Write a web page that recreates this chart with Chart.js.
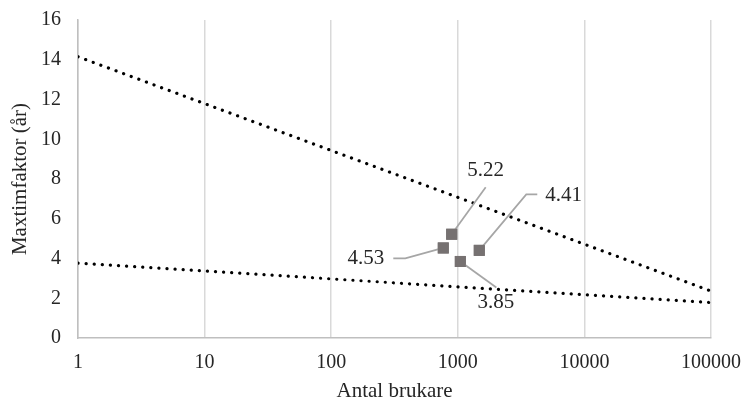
<!DOCTYPE html>
<html>
<head>
<meta charset="utf-8">
<script src="https://cdn.jsdelivr.net/npm/chart.js@4.4.1/dist/chart.umd.min.js"></script>
<style>
    html, body { margin: 0; padding: 0; background: #fff; }
    #wrap { width: 744px; height: 405px; }
</style>
</head>
<body>
<div id="wrap"><canvas id="chart-maxtim"></canvas></div>
<script>
// Data
const BRUKARE = [895, 768, 1047, 1478];
const MAXTIM = [5.22, 4.53, 3.85, 4.41];
const TREND_X = [1, 100000];
const TREND_UPPER = [14.15, 2.36];
const TREND_LOWER = [3.77, 1.78];
const X_TICKS = [1, 10, 100, 1000, 10000, 100000];

const FONT = "'Liberation Serif', 'Times New Roman', serif";

// label offsets (px) from the point: leader path + text anchor
const CALLOUTS = [
    { path: [[0, 0], [34, -47]], text: [34, -64], align: "center" },
    { path: [[0, 0], [-38, 10.5], [-50, 10.5]], text: [-59, 11], align: "right" },
    { path: [[0, 0], [36, 26]], text: [35.5, 41], align: "center" },
    { path: [[0, 0], [47, -56], [58, -56]], text: [66, -55], align: "left" },
];

const calloutPlugin = {
    id: "callouts",
    afterDatasetsDraw(chart) {
        const ctx = chart.ctx;
        const meta = chart.getDatasetMeta(2);
        ctx.save();
        meta.data.forEach((pt, i) => {
            const c = CALLOUTS[i];
            ctx.strokeStyle = "#a6a6a6";
            ctx.lineWidth = 1.75;
            ctx.beginPath();
            c.path.forEach((p, j) => {
                if (j === 0) ctx.moveTo(pt.x + p[0], pt.y + p[1]);
                else ctx.lineTo(pt.x + p[0], pt.y + p[1]);
            });
            ctx.stroke();
            ctx.fillStyle = "#262626";
            ctx.font = "21px " + FONT;
            ctx.textAlign = c.align;
            ctx.textBaseline = "middle";
            ctx.fillText(MAXTIM[i].toFixed(2), pt.x + c.text[0], pt.y + c.text[1]);
        });
        // redraw squares over leader starts
        meta.data.forEach((pt) => {
            ctx.fillStyle = "#767171";
            ctx.fillRect(pt.x - 5.5, pt.y - 5.5, 11, 11);
        });
        ctx.restore();
    },
};

const ctx = document.getElementById("chart-maxtim").getContext("2d");
const chartMaxtim = new Chart(ctx, {
    type: "scatter",
    data: {
        datasets: [
            {
                type: "line",
                data: TREND_X.map((x, i) => ({ x: x, y: TREND_UPPER[i] })),
                borderColor: "#000",
                borderWidth: 3.2,
                borderDash: [0.1, 8],
                borderCapStyle: "round",
                pointRadius: 0,
                fill: false,
            },
            {
                type: "line",
                data: TREND_X.map((x, i) => ({ x: x, y: TREND_LOWER[i] })),
                borderColor: "#000",
                borderWidth: 3.2,
                borderDash: [0.1, 8],
                borderCapStyle: "round",
                pointRadius: 0,
                fill: false,
            },
            {
                data: BRUKARE.map((x, i) => ({ x: x, y: MAXTIM[i] })),
                pointStyle: "rect",
                pointRadius: 7.8,
                backgroundColor: "#767171",
                borderColor: "#767171",
                borderWidth: 0,
            },
        ],
    },
    options: {
        responsive: true,
        maintainAspectRatio: false,
        animation: false,
        layout: { padding: { top: 20, right: 33, left: 0, bottom: 0 } },
        plugins: {
            legend: { display: false },
            tooltip: { enabled: false },
        },
        scales: {
            x: {
                type: "logarithmic",
                min: 1,
                max: 100000,
                afterBuildTicks: (axis) => { axis.ticks = X_TICKS.map(v => ({ value: v })); },
                afterFit: (axis) => {
                    axis.height = 67;
                    axis.paddingLeft = 0;
                    axis.paddingRight = 0;
                },
                ticks: {
                    color: "#262626",
                    font: { family: FONT, size: 20 },
                    padding: 13,
                    maxRotation: 0,
                    autoSkip: false,
                    callback: (v) => String(v),
                },
                grid: { color: "#d9d9d9", lineWidth: 1.5, drawTicks: false },
                border: { color: "#bfbfbf", width: 1.5 },
                title: {
                    display: true,
                    text: "Antal brukare",
                    color: "#262626",
                    font: { family: FONT, size: 21 },
                    padding: { top: 0, bottom: 1 },
                },
            },
            y: {
                min: 0,
                max: 16,
                afterFit: (axis) => {
                    axis.width = 78;
                    axis.paddingTop = 0;
                    axis.paddingBottom = 0;
                },
                ticks: {
                    stepSize: 2,
                    color: "#262626",
                    font: { family: FONT, size: 20 },
                    padding: 17,
                },
                grid: { display: false, drawTicks: false },
                border: { color: "#bfbfbf", width: 1.5 },
                title: {
                    display: true,
                    text: "Maxtimfaktor (år)",
                    color: "#262626",
                    font: { family: FONT, size: 21 },
                    padding: { top: 8, bottom: 0 },
                },
            },
        },
    },
    plugins: [calloutPlugin],
});
</script>
</body>
</html>
